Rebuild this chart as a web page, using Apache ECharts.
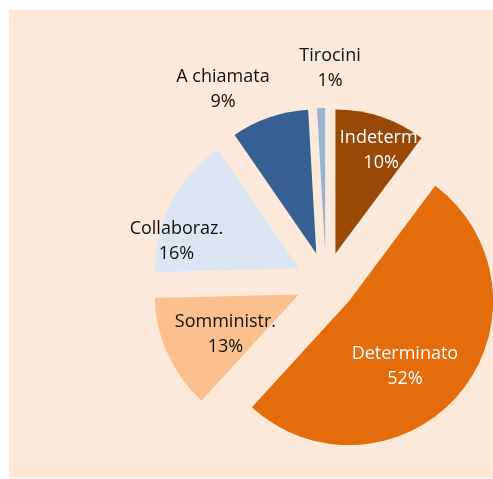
<!DOCTYPE html>
<html>
<head>
<meta charset="utf-8">
<script src="https://cdn.jsdelivr.net/npm/echarts@6/dist/echarts.min.js"></script>
<style>
  body { margin: 0; background: #ffffff; }
  #bg { position: absolute; left: 9px; top: 10px; width: 484px; height: 468px; background: #fde9d9; }
  #chart { position: absolute; left: 0; top: 0; width: 493px; height: 479px; }
</style>
</head>
<body>
<div id="bg"></div>
<div id="chart"></div>
<script>
// tipologie contrattuali
const categories = ['Indeterm.', 'Determinato', 'Somministr.', 'Collaboraz.', 'A chiamata', 'Tirocini']
const values = [10.2, 51.6, 12.8, 15.8, 8.7, 0.9]
const sliceColors = ['#984807', '#e46c0a', '#fac090', '#dce6f2', '#376092', '#95b3d7']
const labelColors = ['#ffffff', '#ffffff', '#111111', '#111111', '#111111', '#111111']

// spostamento etichette rispetto alla posizione 'inside'
const labelShift = [[22, -32], [-2, 17], [-5, 9], [-56, 7], [-69, -93], [7, -109]]

const chart = echarts.init(document.getElementById('chart'))

chart.setOption({
  animation: false,
  series: [
    {
      type: 'pie',
      center: [326, 282],
      radius: [0, 144],
      startAngle: 90,
      clockwise: true,
      selectedMode: 'multiple',
      selectedOffset: 30,
      avoidLabelOverlap: false,
      emphasis: { disabled: true },
      select: { itemStyle: { borderWidth: 0 } },
      itemStyle: { borderWidth: 0 },
      label: {
        position: 'inside',
        fontFamily: 'Open Sans',
        fontSize: 18,
        lineHeight: 25,
        formatter: (p) => p.name + '\n' + Math.round(p.percent) + '%',
      },
      labelLine: { show: false },
      labelLayout: (p) => ({ dx: labelShift[p.dataIndex][0], dy: labelShift[p.dataIndex][1] }),
      data: categories.map((c, i) => ({
        name: c,
        value: values[i],
        selected: true,
        itemStyle: { color: sliceColors[i] },
        label: { color: labelColors[i] },
      })),
    },
  ],
})
</script>
</body>
</html>
